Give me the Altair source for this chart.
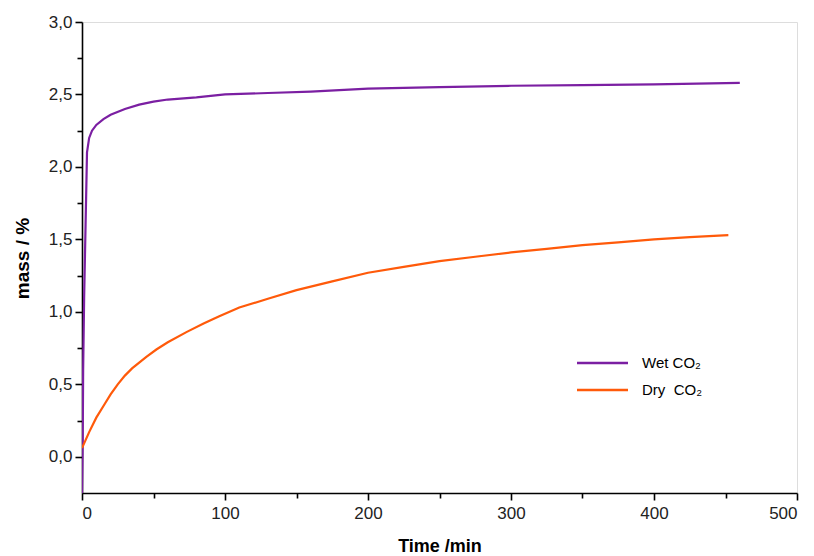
import altair as alt
import pandas as pd

wet_t = [0, 0.5, 0.8, 1.5, 2.5, 3.5, 5, 7, 10, 15, 20, 30, 40, 50, 60, 80, 100, 130, 160, 200, 250, 300, 350, 400, 460]
wet_m = [-0.25, 0.1, 0.6, 1.1, 1.6, 2.1, 2.2, 2.25, 2.29, 2.33, 2.36, 2.4, 2.43, 2.45, 2.465, 2.48, 2.5, 2.51, 2.52, 2.54, 2.55, 2.56, 2.565, 2.57, 2.58]

dry_t = [0, 5, 10, 15, 20, 25, 30, 35, 45, 52, 60, 73, 85, 96, 110, 130, 150, 175, 200, 225, 250, 275, 300, 325, 350, 375, 400, 425, 452]
dry_m = [0.06, 0.17, 0.27, 0.35, 0.43, 0.5, 0.56, 0.61, 0.69, 0.74, 0.79, 0.86, 0.92, 0.97, 1.03, 1.09, 1.15, 1.21, 1.27, 1.31, 1.35, 1.38, 1.41, 1.435, 1.46, 1.48, 1.5, 1.515, 1.53]

series = ["Wet CO₂", "Dry\u00a0\u00a0CO₂"]
colors = ["#7b1fa2", "#ff5a0a"]

df = pd.concat([
    pd.DataFrame({"t": wet_t, "m": wet_m, "s": series[0], "o": 0}),
    pd.DataFrame({"t": dry_t, "m": dry_m, "s": series[1], "o": 1}),
])

font = "Liberation Sans"

lines = alt.Chart(df).mark_line(strokeWidth=2.2, clip=True).encode(
    x=alt.X("t:Q", scale=alt.Scale(domain=[0, 500], nice=False, zero=False),
            axis=alt.Axis(
                values=list(range(0, 501, 50)),
                labelExpr="datum.value % 100 === 0 ? datum.label : ''",
                format="d",
                tickSize={"condition": {"test": "datum.value % 100 === 0", "value": 7}, "value": 5},
                title="Time /min", titleFontWeight="bold", titleFontSize=18,
                titleY=58, titleBaseline="alphabetic",
                labelPadding=5,
                grid=False, domainColor="black", domainWidth=1.6,
                tickColor="black", tickWidth=1.6,
                labelFont=font, labelFontSize=17, labelColor="#222",
                titleFont=font, titleColor="black")),
    y=alt.Y("m:Q", scale=alt.Scale(domain=[-0.25, 3.0], nice=False, zero=False),
            axis=alt.Axis(
                values=[i * 0.25 for i in range(0, 13)],
                labelExpr="datum.value % 0.5 === 0 ? replace(format(datum.value, '.1f'), '.', ',') : ''",
                tickSize={"condition": {"test": "datum.value % 0.5 === 0", "value": 7}, "value": 5},
                title="mass / %", titleFontWeight="bold", titleFontSize=19,
                titleX=-54, titleY=236, titleBaseline="alphabetic", titleAngle=-90,
                titleAlign="center",
                labelPadding=3,
                grid=False, domainColor="black", domainWidth=1.6,
                tickColor="black", tickWidth=1.6,
                labelFont=font, labelFontSize=17, labelColor="#222",
                titleFont=font, titleColor="black")),
    color=alt.Color("s:N", scale=alt.Scale(domain=series, range=colors), legend=None),
    order="o:Q",
    detail="s:N",
)

legend_rows = []
for i, (name, col) in enumerate(zip(series, colors)):
    yy = 341 + 27 * i
    rule = alt.Chart(pd.DataFrame({"s": [name]})).mark_rule(color=col, strokeWidth=2.5).encode(
        x=alt.value(495), x2=alt.value(546), y=alt.value(yy))
    txt = alt.Chart(pd.DataFrame({"s": [name]})).mark_text(
        align="left", baseline="middle", font=font, fontSize=15, color="black").encode(
        x=alt.value(560), y=alt.value(yy), text="s:N")
    legend_rows += [rule, txt]

chart = alt.layer(lines, *legend_rows).properties(
    width=715, height=471,
    autosize=alt.AutoSizeParams(type="none"),
    padding={"left": 82, "top": 22, "right": 17, "bottom": 63},
).configure_view(
    stroke="black", strokeWidth=1.6
).configure(background="white")

chart.save("out.html", embed_options={"renderer": "svg", "actions": False})
